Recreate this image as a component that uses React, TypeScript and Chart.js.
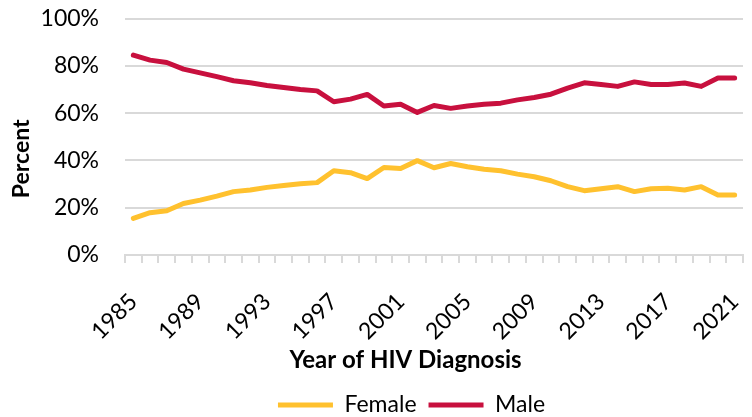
import React, { useEffect, useRef } from "react";
import { Chart, registerables } from "chart.js";

Chart.register(...registerables);

const years: string[] = [
  "1985","1986","1987","1988","1989","1990","1991","1992","1993","1994",
  "1995","1996","1997","1998","1999","2000","2001","2002","2003","2004",
  "2005","2006","2007","2008","2009","2010","2011","2012","2013","2014",
  "2015","2016","2017","2018","2019","2020","2021",
];

const female: number[] = [
  15.5, 17.9, 18.7, 21.8, 23.2, 24.9, 26.8, 27.5, 28.6, 29.4,
  30.1, 30.6, 35.6, 34.8, 32.3, 37.0, 36.6, 39.9, 36.9, 38.7,
  37.3, 36.3, 35.6, 34.2, 33.1, 31.4, 28.9, 27.2, 28.0, 28.9,
  26.8, 28.0, 28.2, 27.5, 28.9, 25.4, 25.4,
];

const male: number[] = [
  84.5, 82.4, 81.4, 78.6, 77.0, 75.4, 73.7, 72.8, 71.7, 70.8,
  70.0, 69.4, 64.8, 65.9, 67.9, 63.0, 63.7, 60.3, 63.2, 62.0,
  63.0, 63.7, 64.2, 65.6, 66.6, 68.0, 70.6, 72.8, 72.1, 71.3,
  73.2, 72.1, 72.1, 72.7, 71.3, 74.8, 74.8,
];

const yTicks: number[] = [0, 20, 40, 60, 80, 100];

const FONT = "Lato, 'Open Sans', sans-serif";
const GRID = "#d9d9d9";

export default function App() {
  const ref = useRef<HTMLCanvasElement | null>(null);

  useEffect(() => {
    if (!ref.current) return;
    const shiftPlugin = {
      id: "shiftBoxes",
      afterLayout(chart: any) {
        for (const b of chart.boxes) {
          const t = b.options && b.options.text;
          if (b === chart.legend) {
            b.left += 40; b.right += 40;
            b.top += 9.5; b.bottom += 9.5;
          } else if (t === "Year of HIV Diagnosis") {
            b.left += 34; b.right += 34;
          } else if (t === "Percent") {
            b.top += 22; b.bottom += 22;
          }
        }
      },
    };
    const chart = new Chart(ref.current, {
      type: "line",
      data: {
        labels: years,
        datasets: [
          {
            label: "Female",
            data: female,
            borderColor: "#FFC12E",
            backgroundColor: "#FFC12E",
            borderWidth: 5,
            pointRadius: 0,
            tension: 0,
            borderCapStyle: "round",
            borderJoinStyle: "round",
          },
          {
            label: "Male",
            data: male,
            borderColor: "#C8103E",
            backgroundColor: "#C8103E",
            borderWidth: 5,
            pointRadius: 0,
            tension: 0,
            borderCapStyle: "round",
            borderJoinStyle: "round",
          },
        ],
      },
      options: {
        animation: false,
        responsive: false,
        maintainAspectRatio: false,
        layout: { padding: { top: 18.5, right: 9, left: 0, bottom: 0 } },
        plugins: {
          tooltip: { enabled: false },
          legend: {
            position: "bottom",
            labels: {
              usePointStyle: true,
              pointStyle: "line",
              pointStyleWidth: 55,
              padding: 12,
              color: "#000",
              font: { family: FONT, size: 23 },
            },
          },
          title: {
            display: true,
            text: "Year of HIV Diagnosis",
            position: "bottom",
            weight: 500,
            color: "#000",
            font: { family: FONT, size: 24, weight: "bold", lineHeight: 1 },
            padding: { top: 4, bottom: 0 },
          },
          subtitle: {
            display: true,
            text: "Percent",
            position: "left",
            fullSize: false,
            color: "#000",
            font: { family: FONT, size: 23, weight: "bold" },
            padding: { top: 8, bottom: 0 },
          },
        },
        scales: {
          x: {
            type: "category",
            offset: true,
            grid: {
              offset: true,
              drawOnChartArea: false,
              drawTicks: true,
              tickLength: 8,
              color: GRID,
              lineWidth: 2,
            },
            border: { display: true, color: GRID, width: 2 },
            ticks: {
              autoSkip: false,
              minRotation: 45,
              maxRotation: 45,
              padding: 25,
              color: "#000",
              font: { family: FONT, size: 23 },
              callback: (_v: any, i: number) => (i % 4 === 0 ? years[i] : ""),
            },
            afterFit: (s: any) => {
              s.height = 89;
              s.paddingLeft = 0;
              s.paddingRight = 0;
            },
          },
          y: {
            min: 0,
            max: 100,
            afterBuildTicks: (s: any) => { s.ticks = yTicks.map((v) => ({ value: v })); },
            grid: {
              color: GRID,
              lineWidth: 2,
              drawTicks: true,
              tickLength: 26,
              tickColor: "rgba(0,0,0,0)",
            },
            border: { display: false },
            ticks: {
              padding: 0,
              color: "#000",
              font: { family: FONT, size: 23 },
              callback: (v: any) => v + "%",
            },
            afterFit: (s: any) => { s.width = 89.4; },
          },
        },
      },
      plugins: [shiftPlugin],
    });
    return () => chart.destroy();
  }, []);

  return (
    <div style={{ position: "fixed", left: 0, top: 0, width: 752, height: 417, background: "#fff" }}>
      <canvas ref={ref} width={752} height={417} style={{ width: 752, height: 417 }} />
    </div>
  );
}
